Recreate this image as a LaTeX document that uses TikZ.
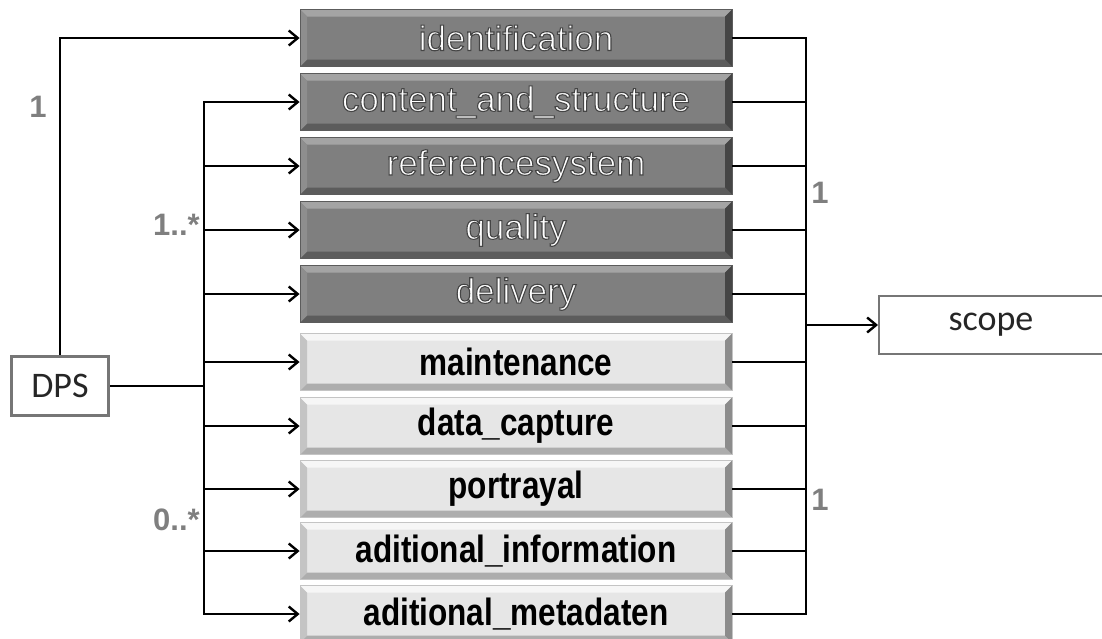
\documentclass[tikz,border=0pt]{standalone}
\usepackage{fontspec}
\setmainfont{Liberation Sans}
\newfontfamily\calfont{Carlito}
\newfontfamily\barfont[FakeStretch=0.83]{Liberation Sans}
\usetikzlibrary{arrows.meta}

% white letters with a grey outline (fill + stroke text mode)
\newcommand{\outlined}[1]{%
  \special{pdf:literal direct 2 Tr 1.1 w 0.27 0.27 0.27 RG}#1\special{pdf:literal direct 0 Tr}}

\definecolor{darkface}{HTML}{7F7F7F}
\definecolor{darktop}{HTML}{A4A4A4}
\definecolor{darkleft}{HTML}{8E8E8E}
\definecolor{darkright}{HTML}{454545}
\definecolor{darkbottom}{HTML}{5C5C5C}
\definecolor{lightface}{HTML}{E6E6E6}
\definecolor{lighttop}{HTML}{F6F6F6}
\definecolor{lightleft}{HTML}{C4C4C4}
\definecolor{lightright}{HTML}{8C8C8C}
\definecolor{lightbottom}{HTML}{ADADAD}
\definecolor{multgray}{HTML}{7F7F7F}
\definecolor{boxline}{HTML}{767676}

\tikzset{
  % 3d bevel drawn inside the node: top, left, right, bottom
  bevel/.style n args={4}{
    path picture={
      \coordinate (pp-nw) at (path picture bounding box.north west);
      \coordinate (pp-ne) at (path picture bounding box.north east);
      \coordinate (pp-se) at (path picture bounding box.south east);
      \coordinate (pp-sw) at (path picture bounding box.south west);
      \fill[#1] (pp-nw) -- (pp-ne) -- ([shift={(-7pt,-7pt)}]pp-ne) -- ([shift={(7pt,-7pt)}]pp-nw) -- cycle;
      \fill[#4] (pp-sw) -- (pp-se) -- ([shift={(-7pt,7pt)}]pp-se) -- ([shift={(7pt,7pt)}]pp-sw) -- cycle;
      \fill[#2] (pp-nw) -- (pp-sw) -- ([shift={(7pt,7pt)}]pp-sw) -- ([shift={(7pt,-7pt)}]pp-nw) -- cycle;
      \fill[#3] (pp-ne) -- (pp-se) -- ([shift={(-7pt,7pt)}]pp-se) -- ([shift={(-7pt,-7pt)}]pp-ne) -- cycle;
    }},
  bar/.style={minimum width=432pt, minimum height=57pt, inner sep=0pt, line width=0.8pt},
  darkbar/.style={bar, fill=darkface, draw=darkbottom,
    bevel={darktop}{darkleft}{darkright}{darkbottom},
    text=white, font=\fontsize{35}{35}\selectfont},
  lightbar/.style={bar, fill=lightface, draw=lightleft,
    bevel={lighttop}{lightleft}{lightright}{lightbottom},
    text=black, font=\barfont\bfseries\fontsize{38}{38}\selectfont},
  plainbox/.style={draw=boxline, fill=white, text=black!85, inner sep=0pt,
    font=\calfont\fontsize{36}{36}\selectfont},
  mult/.style={text=multgray, inner sep=0pt, font=\bfseries\fontsize{31}{31}\selectfont},
  link/.style={line width=2.4pt, >={Straight Barb[length=9pt,width=15pt]}}
}

\begin{document}
\begin{tikzpicture}[x=1pt,y=-1pt]
\clip (0,0) rectangle (1102,638);

% left hand side
\node[plainbox, line width=3pt, minimum width=97pt, minimum height=59pt] (dps) at (60,386) {DPS};

% the ten parts
\node[darkbar] (ident) at (516,38) {\outlined{identification}};
\node[darkbar] (content) at (516,102) {\outlined{content\_and\_structure}};
\node[darkbar] (refsys) at (516,166) {\outlined{referencesystem}};
\node[darkbar] (quality) at (516,230) {\outlined{quality}};
\node[darkbar] (delivery) at (516,294) {\outlined{delivery}};
\node[lightbar] (maint) at (516,362) {maintenance};
\node[lightbar] (capture) at (516,426) {data\_capture};
\node[lightbar] (portrayal) at (516,489) {portrayal};
\node[lightbar] (addinfo) at (516,551) {aditional\_information};
\node[lightbar] (addmeta) at (516,614) {aditional\_metadaten};

% right hand side
\node[plainbox, line width=2pt, minimum width=224pt, minimum height=58pt] (scope) at (991,325) {scope};

\coordinate (lbus) at (204,386);
\coordinate (rbus) at (806,325);

% DPS to the parts
\draw[link,->] (dps.north) |- (ident.west);
\draw[link] (dps.east) -- (lbus);
\draw[link,<->] (content.west) -| (lbus) |- (addmeta.west);
\foreach \part in {refsys,quality,delivery,maint,capture,portrayal,addinfo}
  \draw[link,->] (lbus |- \part.west) -- (\part.west);

% parts to scope
\draw[link] (ident.east) -| (rbus) |- (addmeta.east);
\foreach \part in {content,refsys,quality,delivery,maint,capture,portrayal,addinfo}
  \draw[link] (\part.east) -- (\part.east -| rbus);
\draw[link,->] (rbus) -- (scope.west);

% multiplicities
\node[mult, anchor=base] at (38,117) {1};
\node[mult, anchor=base west] at (153,235) {1..*};
\node[mult, anchor=base west] at (153,530) {0..*};
\node[mult, anchor=base] at (820,203) {1};
\node[mult, anchor=base] at (820,510) {1};
\end{tikzpicture}
\end{document}
